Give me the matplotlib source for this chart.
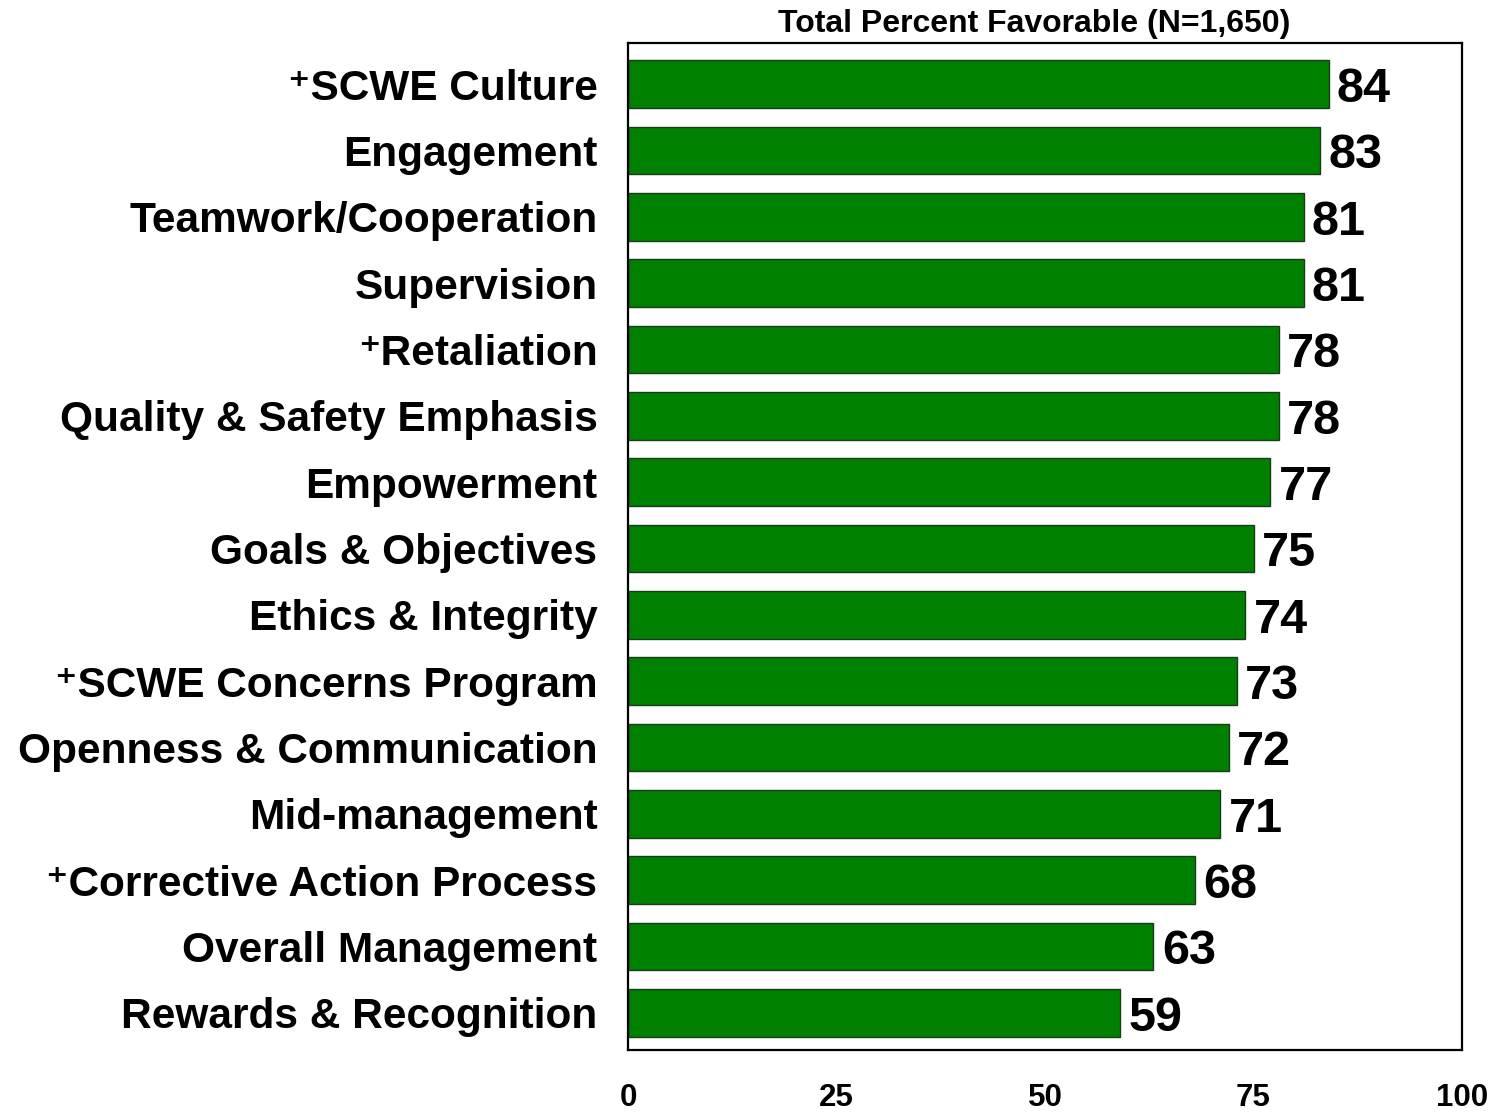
import matplotlib
matplotlib.use('Agg')
import matplotlib.pyplot as plt
import numpy as np

plt.rcParams['font.family'] = ['Liberation Sans', 'DejaVu Sans']
plt.rcParams['font.weight'] = 'bold'

categories = ['\u207aSCWE Culture', 'Engagement', 'Teamwork/Cooperation', 'Supervision',
              '\u207aRetaliation', 'Quality & Safety Emphasis', 'Empowerment',
              'Goals & Objectives', 'Ethics & Integrity', '\u207aSCWE Concerns Program',
              'Openness & Communication', 'Mid-management', '\u207aCorrective Action Process',
              'Overall Management', 'Rewards & Recognition']
values = [84, 83, 81, 81, 78, 78, 77, 75, 74, 73, 72, 71, 68, 63, 59]
xticks = [0, 25, 50, 75, 100]

fig = plt.figure(figsize=(14.91, 11.13), dpi=100)
ax = fig.add_axes([0.4212, 0.0566, 0.5594, 0.9048])

y = np.arange(len(categories))
ax.barh(y, values, height=0.72, color='#008000', edgecolor='#1a3a1a', linewidth=1.0)

for yi, v in zip(y, values):
    ax.text(v + 1.0, yi + 0.08, str(v), va='center', ha='left',
            fontsize=35, fontweight='bold', color='black')

ax.set_xlim(0, 100)
ax.set_ylim(14.56, -0.62)
ax.set_yticks(y)
ax.set_yticklabels(categories, fontsize=30.5, fontweight='bold')
ax.set_xticks(xticks)
ax.set_xticklabels([str(t) for t in xticks], fontsize=22.5, fontweight='bold')
ax.tick_params(axis='y', length=0, pad=22)
ax.tick_params(axis='x', length=0, pad=24)

for s in ax.spines.values():
    s.set_linewidth(1.6)
    s.set_color('black')

ax.set_title('Total Percent Favorable (N=1,650)', fontsize=23, fontweight='bold', pad=8, x=0.487)

fig.savefig('out.png', dpi=100)
